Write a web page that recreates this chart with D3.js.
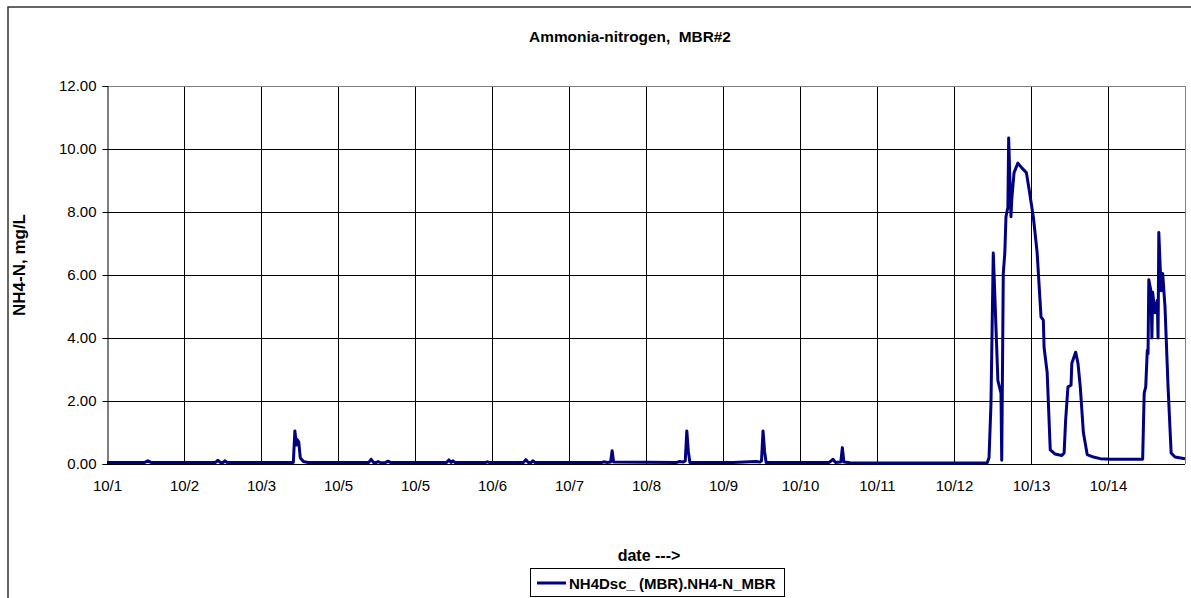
<!DOCTYPE html>
<html>
<head>
<meta charset="utf-8">
<script src="https://cdn.jsdelivr.net/npm/d3@7"></script>
<style>
  body { margin: 0; background: #fff; }
  text { font-family: Arial, "Liberation Sans", sans-serif; }
</style>
</head>
<body>
<svg id="chart" width="1191" height="598"></svg>
<script>
// time since 10/1 00:00 in days
const days = [
  0, 0.49, 0.53, 0.57, 1.41, 1.44, 1.47, 1.51, 1.53, 1.56,
  2.42, 2.44, 2.46, 2.47, 2.49, 2.51, 2.55, 2.61,
  3.40, 3.43, 3.46, 3.50, 3.52, 3.55, 3.62, 3.65, 3.68,
  4.41, 4.44, 4.47, 4.49, 4.52, 4.92, 4.94, 4.96,
  5.41, 5.44, 5.47, 5.51, 5.53, 5.56,
  6.43, 6.45, 6.50, 6.54, 6.56, 6.58,
  7.40, 7.44, 7.48, 7.51, 7.53, 7.55, 7.57,
  8.13, 8.43, 8.48, 8.50, 8.52, 8.54, 8.56,
  9.38, 9.43, 9.46, 9.53, 9.55, 9.57, 9.65, 10.0,
  11.43, 11.455, 11.48, 11.51, 11.52, 11.55, 11.57, 11.61, 11.62, 11.64,
  11.66, 11.675, 11.70, 11.71, 11.74, 11.75, 11.78, 11.83, 11.88, 11.94,
  11.97, 12.03, 12.08, 12.13, 12.16, 12.17, 12.21, 12.25, 12.31, 12.40,
  12.43, 12.45, 12.48, 12.52, 12.53, 12.58, 12.61, 12.64, 12.68, 12.73,
  12.81, 12.90, 13.03, 13.45, 13.47, 13.49, 13.51, 13.52, 13.53, 13.56,
  13.57, 13.58, 13.61, 13.64, 13.65, 13.66, 13.69, 13.71, 13.74, 13.78,
  13.82, 13.87, 14.0
];
// NH4-N, mg/L
const nh4 = [
  0.05, 0.05, 0.10, 0.05, 0.05, 0.12, 0.05, 0.05, 0.10, 0.05,
  0.05, 1.05, 0.60, 0.78, 0.70, 0.20, 0.08, 0.05,
  0.05, 0.15, 0.05, 0.05, 0.08, 0.04, 0.05, 0.09, 0.05,
  0.05, 0.13, 0.05, 0.10, 0.05, 0.05, 0.07, 0.05,
  0.05, 0.14, 0.05, 0.05, 0.10, 0.05,
  0.05, 0.07, 0.05, 0.06, 0.42, 0.06,
  0.05, 0.08, 0.06, 0.10, 1.05, 0.40, 0.05,
  0.05, 0.08, 0.06, 0.10, 1.05, 0.40, 0.05,
  0.05, 0.15, 0.05, 0.06, 0.52, 0.06, 0.04, 0.03,
  0.03, 0.20, 1.90, 6.70, 6.05, 4.00, 2.65, 2.25, 0.12, 6.05,
  6.70, 7.85, 8.15, 10.35, 7.85, 8.40, 9.25, 9.55, 9.40, 9.25,
  8.80, 7.85, 6.70, 4.67, 4.57, 3.70, 2.90, 0.45, 0.32, 0.27,
  0.35, 1.40, 2.45, 2.50, 3.20, 3.55, 3.20, 2.45, 1.00, 0.30,
  0.22, 0.17, 0.15, 0.15, 2.25, 2.45, 3.60, 3.50, 5.85, 5.45,
  4.00, 5.45, 4.80, 5.20, 4.00, 7.35, 5.50, 6.05, 5.00, 2.45,
  0.35, 0.22, 0.17
];
const xTickLabels = ['10/1', '10/2', '10/3', '10/5', '10/5', '10/6', '10/7',
  '10/8', '10/9', '10/10', '10/11', '10/12', '10/13', '10/14'];
const yTicks = [0, 2, 4, 6, 8, 10, 12];

const svg = d3.select('#chart');
const margin = { top: 86, left: 107, right: 1185, bottom: 464 };

// outer chart border (runs off the right / bottom edge)
svg.append('rect')
  .attr('x', 8).attr('y', 7)
  .attr('width', 1200).attr('height', 620)
  .attr('fill', 'none').attr('stroke', '#333').attr('stroke-width', 1.5);

const x = d3.scaleLinear().domain([0, 14]).range([margin.left, margin.right]);
const y = d3.scaleLinear().domain([0, 12]).range([margin.bottom, margin.top]);

// gridlines
svg.append('g')
  .selectAll('line')
  .data(d3.range(1, 15))
  .join('line')
  .attr('x1', d => Math.round(x(d)) + 0.5).attr('x2', d => Math.round(x(d)) + 0.5)
  .attr('y1', margin.top).attr('y2', margin.bottom)
  .attr('stroke', d => d === 14 ? '#808080' : '#000')
  .attr('stroke-width', 1);

svg.append('g')
  .selectAll('line')
  .data(yTicks.slice(1))
  .join('line')
  .attr('x1', margin.left).attr('x2', margin.right)
  .attr('y1', d => Math.round(y(d)) + 0.5).attr('y2', d => Math.round(y(d)) + 0.5)
  .attr('stroke', d => d === 12 ? '#808080' : '#000')
  .attr('stroke-width', 1);

// y axis
const yAxis = svg.append('g')
  .attr('transform', `translate(${margin.left + 0.5},0)`)
  .call(d3.axisLeft(y).tickValues(yTicks).tickFormat(d3.format('.2f')).tickSize(5).tickPadding(6));
yAxis.select('.domain').attr('stroke', '#000');
yAxis.selectAll('text').attr('font-size', 15).attr('fill', '#000')
  .attr('font-family', 'Arial, "Liberation Sans", sans-serif');

// x axis
const xAxis = svg.append('g')
  .attr('transform', `translate(0,${margin.bottom + 0.5})`)
  .call(d3.axisBottom(x).tickValues(d3.range(0, 14)).tickFormat((d, i) => xTickLabels[i]).tickSize(0).tickPadding(16));
xAxis.select('.domain').attr('stroke', '#000').attr('d', `M${margin.left - 4},0H${margin.right}`);
xAxis.selectAll('text').attr('font-size', 15).attr('fill', '#000')
  .attr('font-family', 'Arial, "Liberation Sans", sans-serif');

// series
const line = d3.line()
  .x((d, i) => x(days[i]))
  .y(d => y(d));

svg.append('path')
  .datum(nh4)
  .attr('d', line)
  .attr('fill', 'none')
  .attr('stroke', '#000080')
  .attr('stroke-width', 3)
  .attr('stroke-linejoin', 'round');

// titles
svg.append('text')
  .attr('x', 630).attr('y', 42)
  .attr('text-anchor', 'middle')
  .attr('font-size', 15.4).attr('font-weight', 'bold')
  .style('white-space', 'pre')
  .text('Ammonia-nitrogen,  MBR#2');

svg.append('text')
  .attr('transform', 'translate(25,265) rotate(-90)')
  .attr('text-anchor', 'middle')
  .attr('font-size', 17).attr('font-weight', 'bold')
  .text('NH4-N, mg/L');

svg.append('text')
  .attr('x', 649).attr('y', 561)
  .attr('text-anchor', 'middle')
  .attr('font-size', 16).attr('font-weight', 'bold')
  .text('date --->');

// legend
const legend = svg.append('g');
legend.append('rect')
  .attr('x', 530.5).attr('y', 568.5).attr('width', 254).attr('height', 28)
  .attr('fill', '#fff').attr('stroke', '#000').attr('stroke-width', 1);
legend.append('line')
  .attr('x1', 537).attr('x2', 566).attr('y1', 583).attr('y2', 583)
  .attr('stroke', '#000080').attr('stroke-width', 3);
legend.append('text')
  .attr('x', 569).attr('y', 589)
  .attr('font-size', 15).attr('font-weight', 'bold')
  .text('NH4Dsc_ (MBR).NH4-N_MBR');
</script>
</body>
</html>
